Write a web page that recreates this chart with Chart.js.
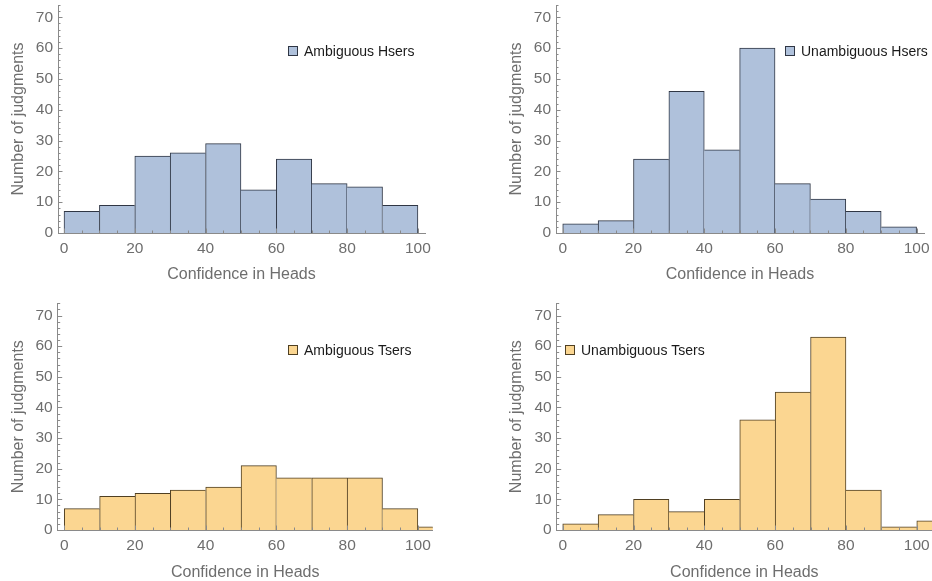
<!DOCTYPE html>
<html>
<head>
<meta charset="utf-8">
<script src="https://cdn.jsdelivr.net/npm/chart.js@4.4.1/dist/chart.umd.min.js"></script>
<style>
  html, body { margin: 0; padding: 0; background: #fff; }
  #wrap { position: relative; width: 932px; height: 581px; overflow: hidden; }
  #wrap canvas { position: absolute; }
</style>
</head>
<body>
<div id="wrap">
  <canvas id="c1" width="466" height="290" style="left:0;top:0"></canvas>
  <canvas id="c2" width="466" height="290" style="left:466px;top:0"></canvas>
  <canvas id="c3" width="466" height="291" style="left:0;top:290px"></canvas>
  <canvas id="c4" width="466" height="291" style="left:466px;top:290px"></canvas>
</div>
<script>
// Bin centres (bin width 10) and counts per group
const binsTop = [5, 15, 25, 35, 45, 55, 65, 75, 85, 95];
const binsBottom = [5, 15, 25, 35, 45, 55, 65, 75, 85, 95, 105];

const ambiguousH = [7, 9, 25, 26, 29, 14, 24, 16, 15, 9];
const unambiguousH = [3, 4, 24, 46, 27, 60, 16, 11, 7, 2];
const ambiguousT = [7, 11, 12, 13, 14, 21, 17, 17, 17, 7, 1];
const unambiguousT = [2, 5, 10, 6, 10, 36, 45, 63, 13, 1, 3];

const xTickValues = [0, 20, 40, 60, 80, 100];
const yTickValues = [0, 10, 20, 30, 40, 50, 60, 70];

const xTitle = 'Confidence in Heads';
const yTitle = 'Number of judgments';

const FONT = "'Liberation Sans', Arial, Helvetica, sans-serif";
const BLUE = '#afc1db', BLUE_EDGE = '#2f3644';
const ORANGE = '#fbd691', ORANGE_EDGE = '#4f3f22';
const GREY = '#6e6e6e';

// one edge per shared boundary, owned by the taller bar
function edgeWidths(ctx) {
    const vals = ctx.dataset.data.map(d => d.y);
    const i = ctx.dataIndex;
    const v = vals[i];
    return {
        top: 1,
        bottom: 0,
        left: (i === 0 || v >= vals[i - 1]) ? 1 : 0,
        right: (i === vals.length - 1 || v > vals[i + 1]) ? 1 : 0
    };
}

// Mathematica style inward ticks (major + minor)
const innerTicks = {
    id: 'innerTicks',
    afterDatasetsDraw(chart) {
        const {ctx, chartArea: a, scales: {x, y}} = chart;
        ctx.save();
        ctx.strokeStyle = '#8a8a8a';
        ctx.lineWidth = 1;
        ctx.beginPath();
        for (let v = 0; v <= x.max; v += 5) {
            const px = Math.round(x.getPixelForValue(v)) + 0.5;
            const len = v % 20 === 0 ? 4.5 : 2.5;
            ctx.moveTo(px, a.bottom);
            ctx.lineTo(px, a.bottom - len);
        }
        for (let v = 0; v <= y.max; v += 2) {
            const py = Math.round(y.getPixelForValue(v)) + 0.5;
            const len = v % 10 === 0 ? 4.5 : 2.5;
            ctx.moveTo(a.left, py);
            ctx.lineTo(a.left + len, py);
        }
        ctx.stroke();
        ctx.restore();
    }
};

// small square legend placed inside the plot
const boxLegend = {
    id: 'boxLegend',
    afterDraw(chart, args, opts) {
        const ds = chart.data.datasets[0];
        const ctx = chart.ctx;
        ctx.save();
        ctx.fillStyle = ds.backgroundColor;
        ctx.fillRect(opts.x, opts.y - 5, 10, 10);
        ctx.strokeStyle = ds.borderColor;
        ctx.lineWidth = 1;
        ctx.strokeRect(opts.x + 0.5, opts.y - 4.5, 9, 9);
        ctx.fillStyle = '#1a1a1a';
        ctx.font = '14px ' + FONT;
        ctx.textBaseline = 'middle';
        ctx.fillText(ds.label, opts.x + 16, opts.y + 1);
        ctx.restore();
    }
};

const panels = [
    { id: 'c1', bins: binsTop, counts: ambiguousH, label: 'Ambiguous Hsers', fill: BLUE, edge: BLUE_EDGE,
      xMin: -1.7, xMax: 102, pad: {top: 5, right: 41}, yW: 58, xH: 57, yTitlePad: 11, xTitlePad: 7, legend: {x: 288, y: 51} },
    { id: 'c2', bins: binsTop, counts: unambiguousH, label: 'Unambiguous Hsers', fill: BLUE, edge: BLUE_EDGE,
      xMin: -1.9, xMax: 102.1, pad: {top: 5, right: 8}, yW: 90, xH: 57, yTitlePad: 42.7, xTitlePad: 7, legend: {x: 319, y: 51} },
    { id: 'c3', bins: binsBottom, counts: ambiguousT, label: 'Ambiguous Tsers', fill: ORANGE, edge: ORANGE_EDGE,
      xMin: -1.86, xMax: 104.2, pad: {top: 13.3, right: 33.3}, yW: 57.7, xH: 51, yTitlePad: 11, xTitlePad: 0.2, legend: {x: 288, y: 60} },
    { id: 'c4', bins: binsBottom, counts: unambiguousT, label: 'Unambiguous Tsers', fill: ORANGE, edge: ORANGE_EDGE,
      xMin: -1.7, xMax: 104.3, pad: {top: 13.3, right: 0}, yW: 90.7, xH: 51, yTitlePad: 42.7, xTitlePad: 0.2, legend: {x: 99, y: 60} }
];

panels.forEach(p => {
    new Chart(document.getElementById(p.id), {
        type: 'bar',
        data: {
            datasets: [{
                label: p.label,
                data: p.bins.map((b, i) => ({x: b, y: p.counts[i]})),
                backgroundColor: p.fill,
                borderColor: p.edge,
                borderWidth: edgeWidths,
                borderSkipped: false,
                barPercentage: 1,
                categoryPercentage: 1
            }]
        },
        options: {
            responsive: false,
            animation: false,
            devicePixelRatio: 1,
            layout: { padding: {left: 0, bottom: 0, top: p.pad.top, right: p.pad.right} },
            plugins: {
                legend: { display: false },
                tooltip: { enabled: false },
                boxLegend: p.legend
            },
            scales: {
                x: {
                    type: 'linear',
                    offset: false,
                    min: p.xMin,
                    max: p.xMax,
                    afterBuildTicks: s => { s.ticks = xTickValues.map(v => ({value: v})); },
                    afterFit: s => { s.height = p.xH; s.paddingLeft = 0; s.paddingRight = 0; },
                    grid: { display: false, offset: false, drawTicks: false },
                    border: { display: true, color: '#8a8a8a', width: 1 },
                    ticks: { color: GREY, padding: 6, maxRotation: 0, font: {family: FONT, size: 15.5} },
                    title: { display: true, text: xTitle, color: GREY, padding: {top: 0, bottom: p.xTitlePad}, font: {family: FONT, size: 16, lineHeight: 1} }
                },
                y: {
                    min: 0,
                    max: 74,
                    afterBuildTicks: s => { s.ticks = yTickValues.map(v => ({value: v})); },
                    afterFit: s => { s.width = p.yW; s.paddingTop = 0; s.paddingBottom = 0; },
                    grid: { display: false, drawTicks: false },
                    border: { display: true, color: '#8a8a8a', width: 1 },
                    ticks: { color: GREY, padding: 5, font: {family: FONT, size: 15.5} },
                    title: { display: true, text: yTitle, color: GREY, padding: {top: p.yTitlePad, bottom: 0}, font: {family: FONT, size: 16, lineHeight: 1} }
                }
            }
        },
        plugins: [innerTicks, boxLegend]
    });
});
</script>
</body>
</html>
